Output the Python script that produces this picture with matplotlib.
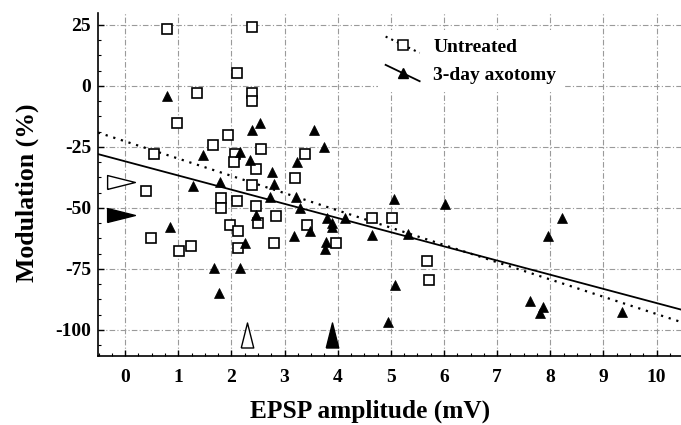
import numpy as np
import matplotlib
matplotlib.use('Agg')
import matplotlib.pyplot as plt
from matplotlib.legend_handler import HandlerLine2D
from matplotlib.lines import Line2D
from matplotlib.ticker import MultipleLocator

plt.rcParams['font.family'] = ['Liberation Serif', 'DejaVu Serif']
plt.rcParams['font.weight'] = 'bold'
plt.rcParams['axes.unicode_minus'] = False

# ---- data ----
untreated_x = [0.78, 2.39, 2.10, 1.36, 2.39, 2.39, 0.97, 1.93, 1.66, 0.55,
               2.55, 2.06, 2.04, 2.46, 3.19, 2.39, 0.40, 1.80, 1.80, 2.11,
               2.47, 2.51, 2.83, 1.97, 2.12, 0.48, 1.01, 1.24, 2.12, 2.80,
               3.38, 3.43, 3.96, 4.65, 5.02, 5.68, 5.71]
untreated_y = [23.2, 24.3, 5.2, -3.0, -2.7, -6.0, -15.0, -20.0, -24.2, -28.1,
               -26.0, -27.9, -31.1, -34.2, -37.9, -40.8, -43.2, -46.0, -50.1, -47.1,
               -49.2, -56.0, -53.2, -57.2, -59.3, -62.4, -67.5, -65.6, -66.5, -64.2,
               -27.9, -57.2, -64.5, -54.0, -54.0, -71.6, -79.5]

axotomy_x = [0.78, 2.54, 2.38, 1.47, 2.17, 2.35, 2.76, 2.80, 1.78, 1.27,
             3.24, 2.72, 3.22, 3.29, 2.47, 0.85, 2.25, 3.17, 1.67, 2.17,
             1.76, 3.55, 3.74, 3.47, 3.79, 3.89, 3.90, 4.14, 3.78, 3.76,
             4.65, 5.33, 5.06, 6.02, 5.08, 4.95, 8.22, 7.95, 7.62, 7.87,
             7.80, 9.35]
axotomy_y = [-4.2, -15.0, -18.0, -28.3, -26.9, -30.3, -35.4, -40.2, -39.2, -41.2,
             -31.2, -45.4, -45.4, -50.0, -52.7, -57.7, -64.5, -61.6, -74.7, -74.7,
             -85.0, -18.0, -25.1, -59.4, -54.2, -56.0, -57.7, -54.2, -63.8, -66.8,
             -61.3, -60.7, -46.3, -48.4, -81.8, -96.9, -54.2, -61.5, -88.0, -90.7,
             -92.9, -92.7]

# regression fits (intercept, slope)
untreated_fit = (-22.7, -7.08)
axotomy_fit = (-30.9, -5.81)

# group means (x: EPSP amplitude, y: modulation)
untreated_mean_x, untreated_mean_y = 2.29, -39.2
axotomy_mean_x, axotomy_mean_y = 3.90, -52.9

series_labels = ['Untreated', '3-day axotomy']
x_ticks = [0, 1, 2, 3, 4, 5, 6, 7, 8, 9, 10]
y_ticks = [25, 0, -25, -50, -75, -100]


class SlantHandler(HandlerLine2D):
    def create_artists(self, legend, orig_handle, xdescent, ydescent,
                       width, height, fontsize, trans):
        artists = super().create_artists(legend, orig_handle, xdescent, ydescent,
                                         width, height, fontsize, trans)
        for a in artists:
            xd = np.asarray(a.get_xdata(), float)
            yd = np.asarray(a.get_ydata(), float)
            xm = 0.5 * (xd.min() + xd.max())
            a.set_ydata(yd - (xd - xm) * 0.48)
        return artists


fig = plt.figure(figsize=(6.81, 4.25), dpi=100)
ax = fig.add_axes([98 / 681, 69 / 425, 583 / 681, 343 / 425])
ax.set_xlim(-0.51, 10.46)
ax.set_ylim(-110.7, 29.9)

ax.set_axisbelow(True)
ax.grid(True, which='major', color='#9a9a9a', linestyle=(0, (5, 2, 1, 2)), lw=0.8)

for s in ['top', 'right']:
    ax.spines[s].set_visible(False)
for s in ['left', 'bottom']:
    ax.spines[s].set_linewidth(1.2)

# regression lines
xs = np.array(ax.get_xlim())
ax.plot(xs, untreated_fit[0] + untreated_fit[1] * xs, color='black',
        linestyle=(0, (1, 2.6)), lw=1.6, zorder=2)
ax.plot(xs, axotomy_fit[0] + axotomy_fit[1] * xs, color='black', lw=1.3, zorder=2)

# points
ax.plot(untreated_x, untreated_y, linestyle='none', marker='s', ms=6.8,
        mfc='white', mec='black', mew=1.2, zorder=3)
ax.plot(axotomy_x, axotomy_y, linestyle='none', marker='^', ms=7.2,
        mfc='black', mec='black', mew=0.5, zorder=4)

# mean markers
right_tri = [(-1, -0.5), (-1, 0.5), (1, 0), (-1, -0.5)]
up_tri = [(-0.5, -1), (0.5, -1), (0, 1), (-0.5, -1)]
ytr = ax.get_yaxis_transform()
xtr = ax.get_xaxis_transform()
ax.plot([0.039], [untreated_mean_y], transform=ytr, marker=right_tri, ms=20,
        mfc='white', mec='black', mew=1.0, linestyle='none', zorder=5)
ax.plot([0.039], [axotomy_mean_y], transform=ytr, marker=right_tri, ms=20,
        mfc='black', mec='black', mew=1.0, linestyle='none', zorder=5)
ax.plot([untreated_mean_x], [0.062], transform=xtr, marker=up_tri, ms=18,
        mfc='white', mec='black', mew=1.0, linestyle='none', zorder=5)
ax.plot([axotomy_mean_x], [0.062], transform=xtr, marker=up_tri, ms=18,
        mfc='black', mec='black', mew=1.0, linestyle='none', zorder=5)

# ticks
ax.set_xticks(x_ticks)
ax.set_yticks(y_ticks)
ax.xaxis.set_minor_locator(MultipleLocator(0.25))
ax.yaxis.set_minor_locator(MultipleLocator(6.25))
ax.tick_params(which='both', direction='in', top=False, right=False)
ax.tick_params(which='major', length=4, width=1.0, labelsize=14)
ax.tick_params(which='minor', length=2.5, width=0.8)
ax.tick_params(axis='x', which='major', pad=9)
ax.tick_params(axis='y', which='major', pad=5)
for lab in ax.get_xticklabels() + ax.get_yticklabels():
    lab.set_fontweight('bold')

ax.set_xlabel('EPSP amplitude (mV)', fontsize=18.3, fontweight='bold', labelpad=10, x=0.466)
ax.set_ylabel('Modulation (%)', fontsize=18.5, fontweight='bold', labelpad=12, y=0.477)

# legend
h1 = Line2D([], [], color='black', linestyle=(0, (1, 2.0)), lw=1.5, marker='s',
            mfc='white', mec='black', ms=6.5, mew=1.1)
h2 = Line2D([], [], color='black', lw=1.3, marker='^', mfc='black', mec='black', ms=7)
leg = ax.legend([h1, h2], series_labels, loc='upper left', bbox_to_anchor=(0.48, 0.95),
                frameon=True, framealpha=1, edgecolor='none', facecolor='white',
                fancybox=False, fontsize=14, handlelength=1.75, handletextpad=0.7,
                labelspacing=0.55, borderpad=0.4, borderaxespad=0,
                handler_map={Line2D: SlantHandler(numpoints=1)})
for t in leg.get_texts():
    t.set_fontweight('bold')

fig.savefig('out.png', dpi=100)
